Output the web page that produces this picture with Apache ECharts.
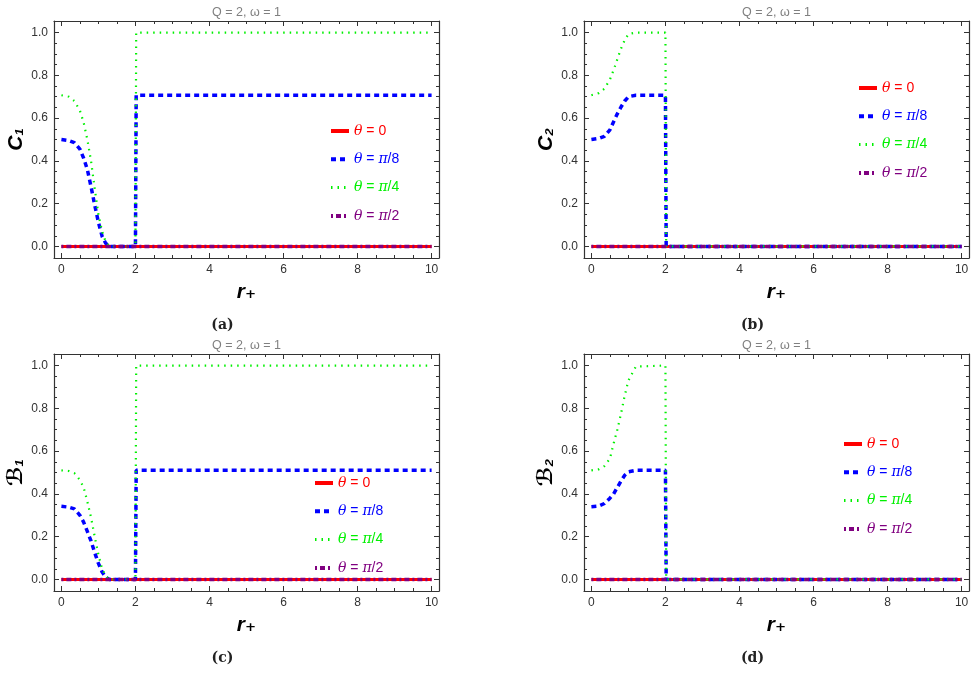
<!DOCTYPE html>
<html><head><meta charset="utf-8">
<script src="https://cdn.jsdelivr.net/npm/echarts@6/dist/echarts.min.js"></script>
<style>html,body{margin:0;padding:0;background:#fff}#c{width:976px;height:691px}</style>
</head><body><div id="c"></div>
<script>
// ---------- data ----------
const seriesNames = ['θ = 0', 'θ = π/8', 'θ = π/4', 'θ = π/2'];
const xMajorTicks = [0, 2, 4, 6, 8, 10];
const xMinorTicks = [0.5, 1, 1.5, 2.5, 3, 3.5, 4.5, 5, 5.5, 6.5, 7, 7.5, 8.5, 9, 9.5];
const yMajorTicks = [0, 0.2, 0.4, 0.6, 0.8, 1.0];
const yMinorTicks = [0.05, 0.1, 0.15, 0.25, 0.3, 0.35, 0.45, 0.5, 0.55, 0.65, 0.7, 0.75, 0.85, 0.9, 0.95];
const panelTitle = 'Q = 2, ω = 1';
const yNames = ['C₁', 'C₂', 'ℬ₁', 'ℬ₂'];
const xName = 'r₊';
const captions = ['(a)', '(b)', '(c)', '(d)'];

// θ = 0 and θ = π/2 are zero everywhere in all four panels
const zeroR = [0, 10];
const zeroV = [0, 0];

// (a) C1
const c1Pi8R = [0, 0.2, 0.35, 0.5, 0.6, 0.7, 0.8, 0.9, 1.0, 1.1, 1.2, 1.3, 2.0, 2.02, 10];
const c1Pi8V = [0.5, 0.495, 0.485, 0.455, 0.413, 0.36, 0.28, 0.193, 0.113, 0.047, 0.014, 0, 0, 0.707, 0.707];
const c1Pi4R = [0, 0.2, 0.35, 0.5, 0.6, 0.7, 0.8, 0.9, 1.0, 1.1, 1.2, 1.3, 2.0, 2.02, 10];
const c1Pi4V = [0.707, 0.70, 0.68, 0.635, 0.58, 0.50, 0.40, 0.27, 0.15, 0.07, 0.02, 0, 0, 1.0, 1.0];
// (b) C2
const c2Pi8R = [0, 0.2, 0.35, 0.5, 0.6, 0.7, 0.8, 0.9, 1.0, 1.2, 2.0, 2.02, 10];
const c2Pi8V = [0.5, 0.505, 0.515, 0.545, 0.583, 0.62, 0.652, 0.68, 0.70, 0.707, 0.707, 0, 0];
const c2Pi4R = [0, 0.2, 0.35, 0.5, 0.6, 0.7, 0.8, 0.9, 1.0, 1.2, 2.0, 2.02, 10];
const c2Pi4V = [0.707, 0.717, 0.737, 0.78, 0.825, 0.875, 0.925, 0.965, 0.993, 1.0, 1.0, 0, 0];
// (c) B1
const b1Pi8R = [0, 0.2, 0.35, 0.5, 0.6, 0.7, 0.8, 0.9, 1.0, 1.1, 1.2, 1.3, 2.0, 2.02, 10];
const b1Pi8V = [0.342, 0.338, 0.33, 0.30, 0.268, 0.225, 0.18, 0.125, 0.075, 0.035, 0.01, 0, 0, 0.51, 0.51];
const b1Pi4R = [0, 0.2, 0.35, 0.5, 0.6, 0.7, 0.8, 0.9, 1.0, 1.1, 1.2, 1.3, 2.0, 2.02, 10];
const b1Pi4V = [0.51, 0.507, 0.497, 0.465, 0.43, 0.365, 0.29, 0.20, 0.115, 0.05, 0.015, 0, 0, 1.0, 1.0];
// (d) B2
const b2Pi8R = [0, 0.2, 0.35, 0.5, 0.6, 0.7, 0.8, 0.9, 1.0, 1.2, 2.0, 2.02, 10];
const b2Pi8V = [0.34, 0.343, 0.355, 0.38, 0.40, 0.43, 0.46, 0.487, 0.503, 0.51, 0.51, 0, 0];
const b2Pi4R = [0, 0.2, 0.35, 0.5, 0.6, 0.7, 0.8, 0.9, 1.0, 1.2, 2.0, 2.02, 10];
const b2Pi4V = [0.51, 0.515, 0.53, 0.565, 0.635, 0.70, 0.775, 0.86, 0.93, 0.995, 1.0, 0, 0];

// ---------- build ----------
const zip = (r, v) => r.map((x, i) => [x, v[i]]);
const panelCurves = [
  [zip(zeroR, zeroV), zip(c1Pi8R, c1Pi8V), zip(c1Pi4R, c1Pi4V), zip(zeroR, zeroV)],
  [zip(zeroR, zeroV), zip(c2Pi8R, c2Pi8V), zip(c2Pi4R, c2Pi4V), zip(zeroR, zeroV)],
  [zip(zeroR, zeroV), zip(b1Pi8R, b1Pi8V), zip(b1Pi4R, b1Pi4V), zip(zeroR, zeroV)],
  [zip(zeroR, zeroV), zip(b2Pi8R, b2Pi8V), zip(b2Pi4R, b2Pi4V), zip(zeroR, zeroV)]
];

const colors = ['#ff0000', '#0000ff', '#00f000', '#800080'];
const lineStyles = [
  { width: 3, type: 'solid' },
  { width: 3.5, type: [5, 4] },
  { width: 2.2, type: [1.5, 5] },
  { width: 3.5, type: [2, 3, 5, 3] }
];
const legendLineWidths = [4, 4, 3, 4];
const grids = [
  { left: 54, top: 21 }, { left: 584, top: 21 },
  { left: 54, top: 354 }, { left: 584, top: 354 }
];
const legendPos = [
  { left: 329, top: 124 }, { left: 857, top: 81 },
  { left: 313, top: 476 }, { left: 842, top: 437 }
];
const W = 385, H = 237;
const frameColor = '#333';
const XMIN = -0.2, XMAX = 10.2, YMIN = -0.054, YMAX = 1.054;

const option = {
  animation: false,
  backgroundColor: '#fff',
  grid: [], xAxis: [], yAxis: [], series: [], legend: [], title: []
};

function xAx(i, pos, major, main) {
  return {
    gridIndex: i, type: 'value', position: pos, min: XMIN, max: XMAX,
    axisLine: { show: major, onZero: false, lineStyle: { color: frameColor, width: 1.2 } },
    axisTick: { show: true, inside: true, length: major ? 5 : 3,
      customValues: major ? xMajorTicks : xMinorTicks, lineStyle: { color: frameColor, width: 1 } },
    axisLabel: { show: !!main, customValues: xMajorTicks, color: '#333', fontSize: 12,
      fontFamily: 'Liberation Sans', margin: 6, formatter: v => String(v) },
    splitLine: { show: false },
    name: main ? xName : '', nameLocation: 'middle', nameGap: 24,
    nameTextStyle: { fontFamily: 'Liberation Sans, DejaVu Sans', fontWeight: 'bold', fontStyle: 'italic', fontSize: 21, color: '#000' }
  };
}
function yAx(i, pos, major, main) {
  return {
    gridIndex: i, type: 'value', position: pos, min: YMIN, max: YMAX,
    axisLine: { show: major, onZero: false, lineStyle: { color: frameColor, width: 1.2 } },
    axisTick: { show: true, inside: true, length: major ? 5 : 3,
      customValues: major ? yMajorTicks : yMinorTicks, lineStyle: { color: frameColor, width: 1 } },
    axisLabel: { show: !!main, customValues: yMajorTicks, color: '#333', fontSize: 12,
      fontFamily: 'Liberation Sans', margin: 6, formatter: v => v.toFixed(1) },
    splitLine: { show: false },
    name: main ? yNames[i] : '', nameLocation: 'middle', nameGap: 27, nameRotate: 90,
    nameTextStyle: { fontFamily: 'Liberation Sans, DejaVu Sans', fontWeight: 'bold', fontStyle: 'italic', fontSize: 21, color: '#000' }
  };
}

const italicGreek = n => n.replace(/([θπ])/g, '{i|$1}');

grids.forEach((g, i) => {
  option.grid.push({ left: g.left, top: g.top, width: W, height: H, containLabel: false });
  option.xAxis.push(xAx(i, 'bottom', true, true), xAx(i, 'bottom', false, false),
                    xAx(i, 'top', true, false), xAx(i, 'top', false, false));
  option.yAxis.push(yAx(i, 'left', true, true), yAx(i, 'left', false, false),
                    yAx(i, 'right', true, false), yAx(i, 'right', false, false));
  panelCurves[i].forEach((data, k) => {
    option.series.push({
      type: 'line', name: seriesNames[k], xAxisIndex: 4 * i, yAxisIndex: 4 * i,
      data: data, symbol: 'none', showSymbol: false, smooth: false,
      lineStyle: Object.assign({ color: colors[k], cap: 'butt' }, lineStyles[k]),
      itemStyle: { color: colors[k] }, z: 2 + k
    });
  });
  option.legend.push({
    orient: 'vertical', left: legendPos[i].left, top: legendPos[i].top, padding: 0,
    itemWidth: 18, itemHeight: 14, itemGap: 14.3, selectedMode: false,
    itemStyle: { opacity: 0 },
    data: seriesNames.map((n, k) => ({
      name: n,
      lineStyle: { width: legendLineWidths[k] },
      textStyle: { color: colors[k], rich: { i: { color: colors[k], fontStyle: 'italic', fontSize: 14, fontFamily: 'DejaVu Serif' } } }
    })),
    textStyle: { fontSize: 14, fontFamily: 'Liberation Sans, DejaVu Sans', lineHeight: 14 },
    formatter: italicGreek
  });
  const cx = g.left + W / 2;
  option.title.push({
    text: panelTitle, left: cx, top: g.top - 15, textAlign: 'center', padding: 0,
    textStyle: { fontSize: 12.5, fontWeight: 'normal', color: '#808080', fontFamily: 'Liberation Sans, DejaVu Sans' }
  });
  option.title.push({
    text: captions[i], left: cx - 24, top: g.top + 297, textAlign: 'center', padding: 0,
    textStyle: { fontSize: 14, fontWeight: 'bold', color: '#222', fontFamily: 'DejaVu Serif' }
  });
});

const chart = echarts.init(document.getElementById('c'), null, { renderer: 'canvas' });
chart.setOption(option);
</script>
</body></html>
